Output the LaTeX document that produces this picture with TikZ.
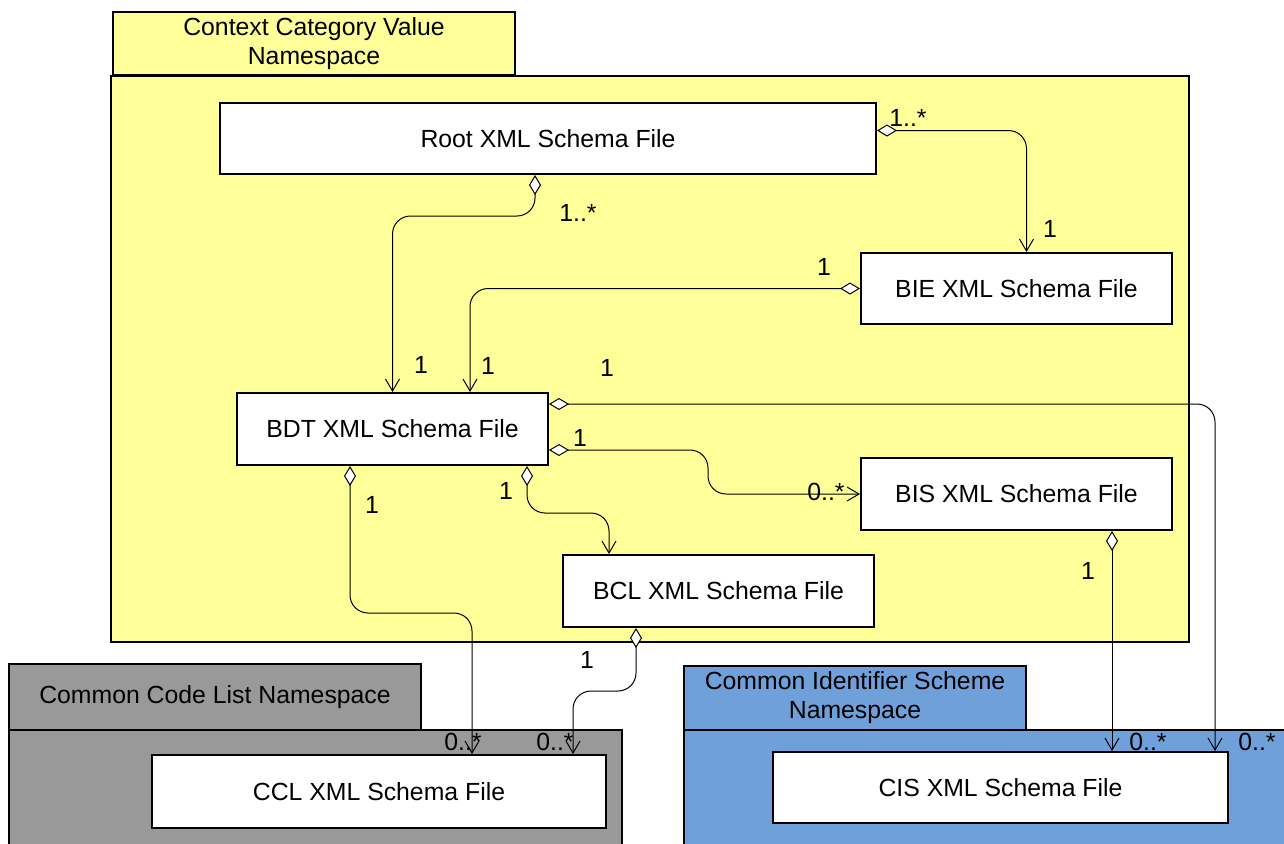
\documentclass[tikz,border=0pt]{standalone}
\usepackage{fontspec}
\setmainfont{Liberation Sans}
\usetikzlibrary{arrows.meta}

\definecolor{nsyellow}{RGB}{255,255,153}
\definecolor{nsgray}{RGB}{153,153,153}
\definecolor{nsblue}{RGB}{112,160,218}

\begin{document}
\begin{tikzpicture}[x=0.5pt,y=-0.5pt,
  every node/.style={font=\fontsize{12.4}{14.5}\selectfont},
  pkg/.style={draw,line width=1pt,inner sep=0pt,anchor=north west,align=center},
  file/.style={draw,fill=white,line width=1pt,inner sep=0pt},
  assoc/.style={line width=0.5pt,rounded corners=9pt,
    {Diamond[fill=white,length=10pt,width=6pt]}-{Straight Barb[length=6pt,width=7pt]}},
  mult/.style={inner sep=0pt}]
\useasboundingbox (0,0) rectangle (1284,843);
\clip (0,0) rectangle (1284,843);

% packages
\node[pkg,fill=nsyellow,minimum width=539pt,minimum height=283pt] (ctxbody) at (110,75) {};
\node[pkg,fill=nsyellow,minimum width=201pt,minimum height=31.5pt] (ctxtab) at (112,11) {Context Category Value\\Namespace};
\node[pkg,fill=nsgray,minimum width=306.5pt,minimum height=65pt] (cclbody) at (8,729) {};
\node[pkg,fill=nsgray,minimum width=206pt,minimum height=33pt] (ccltab) at (8,663) {Common Code List Namespace};
\node[pkg,fill=nsblue,minimum width=310pt,minimum height=65pt] (cisbody) at (683,729) {};
\node[pkg,fill=nsblue,minimum width=171pt,minimum height=32pt] (cistab) at (683,665) {Common Identifier Scheme\\Namespace};

% schema files
\node[file,minimum width=328pt,minimum height=35.5pt] (root) at (548,138.5) {Root XML Schema File};
\node[file,minimum width=155.5pt,minimum height=35.5pt] (bie) at (1016.5,288.5) {BIE XML Schema File};
\node[file,minimum width=155.5pt,minimum height=36pt] (bdt) at (392.5,429) {BDT XML Schema File};
\node[file,minimum width=155.5pt,minimum height=36pt] (bis) at (1016.5,494) {BIS XML Schema File};
\node[file,minimum width=155.5pt,minimum height=36pt] (bcl) at (718.5,591) {BCL XML Schema File};
\node[file,minimum width=227pt,minimum height=36.5pt] (ccl) at (379,791.5) {CCL XML Schema File};
\node[file,minimum width=227.5pt,minimum height=35.5pt] (cis) at (1000.5,787.5) {CIS XML Schema File};

% associations
\draw[assoc] ([yshift=4pt]root.east) -| ([xshift=5pt]bie.north);
\draw[assoc] ([xshift=-6.5pt]root.south) -- ++(0,41) -| (bdt.north);
\draw[assoc] (bie.west) -| ([xshift=38.75pt]bdt.north);
\draw[assoc] ([yshift=12.5pt]bdt.east) -| ([xshift=107.25pt]cis.north);
\draw[assoc] ([yshift=-10.5pt]bdt.east) -- ++(159,0) |- (bis.west);
\draw[assoc] ([xshift=67.25pt]bdt.south) -- ++(0,47) -| ([xshift=-54.75pt]bcl.north);
\draw[assoc] ([xshift=-21.25pt]bdt.south) -- ++(0,147) -| ([xshift=46.5pt]ccl.north);
\draw[assoc] ([xshift=-41.25pt]bcl.south) -- ++(0,63) -| ([xshift=97pt]ccl.north);
\draw[assoc] ([xshift=47.75pt]bis.south) -- ([xshift=47.75pt]bis.south |- cis.north);

% multiplicities
\node[mult] (rootbieA) at (908,118) {1..*};
\node[mult] (rootbieB) at (1050,229) {1};
\node[mult] (rootbdtA) at (578,213) {1..*};
\node[mult] (rootbdtB) at (421,365) {1};
\node[mult] (biebdtA) at (824,267) {1};
\node[mult] (biebdtB) at (488,366) {1};
\node[mult] (bdtcisA) at (607,368) {1};
\node[mult] (bdtcisB) at (1257,742) {0..*};
\node[mult] (bdtbisA) at (580,438) {1};
\node[mult] (bdtbisB) at (826,492) {0..*};
\node[mult] (bdtbclA) at (506,491) {1};
\node[mult] (bdtcclA) at (372,505) {1};
\node[mult] (bdtcclB) at (463,742) {0..*};
\node[mult] (bclcclA) at (587,660) {1};
\node[mult] (bclcclB) at (555,742) {0..*};
\node[mult] (biscisA) at (1088,571) {1};
\node[mult] (biscisB) at (1148,742) {0..*};
\end{tikzpicture}
\end{document}
